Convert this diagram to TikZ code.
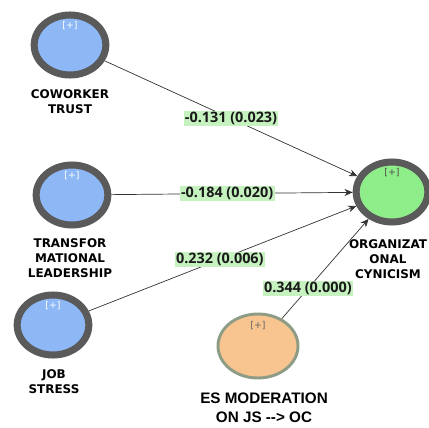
\documentclass[tikz,border=0pt]{standalone}
\usepackage{fontspec}
\usetikzlibrary{shapes.geometric,positioning,arrows.meta}
\newfontfamily\lvf{DejaVu Sans}
\newfontfamily\esf{Liberation Sans}
\newfontfamily\pcf{Open Sans}
\definecolor{blx}{HTML}{8DB8F5}
\definecolor{grx}{HTML}{90EE8A}
\definecolor{orx}{HTML}{F8C490}
\definecolor{gax}{HTML}{5A5A5A}
\definecolor{gox}{HTML}{8E9C86}
\definecolor{pgx}{HTML}{C6F2C0}
\tikzset{
    lv/.style={ellipse,draw=gax,line width=6pt,minimum width=2.15cm,minimum height=1.8cm,inner sep=0pt},
    mod/.style={ellipse,draw=gox,line width=2.5pt,fill=orx,minimum width=2.4cm,minimum height=1.92cm,inner sep=0pt},
    plus/.style={inner sep=0pt,font=\lvf\fontsize{8}{9}\selectfont},
    lvname/.style={align=center,inner sep=0pt,font=\lvf\bfseries\fontsize{10.2}{12.8}\selectfont},
    path/.style={draw=black!80,line width=0.6pt,-{Stealth[length=7pt,width=6pt]}},
    coef/.style={fill=pgx,inner sep=1.2pt,text=black!90,font=\pcf\bfseries\fontsize{12.3}{13}\selectfont}
}
\begin{document}
\begin{tikzpicture}[x=0.03cm,y=-0.03cm]
    \useasboundingbox (0,0) rectangle (429,427);
    \node [lv,fill=blx] (ct) at (70,45) {};
    \node [lv,fill=blx] (tl) at (72,195) {};
    \node [lv,fill=blx] (js) at (53,325) {};
    \node [lv,fill=grx] (oc) at (392,192) {};
    \node [mod] (es) at (258,346) {};
    \node [plus,text=white,below=8pt of ct.north] (ct-p) {[+]};
    \node [plus,text=white,below=8pt of tl.north] (tl-p) {[+]};
    \node [plus,text=white,below=8pt of js.north] (js-p) {[+]};
    \node [plus,text=black!70,below=8pt of oc.north] (oc-p) {[+]};
    \node [plus,text=black!60,below=7pt of es.north] (es-p) {[+]};
    \node [lvname] (ct-l) at (70,102) {COWORKER\\TRUST};
    \node [lvname] (tl-l) at (70,258) {TRANSFOR\\MATIONAL\\LEADERSHIP};
    \node [lvname] (js-l) at (54,382) {JOB\\STRESS};
    \node [lvname] (oc-l) at (388,259) {ORGANIZAT\\ONAL\\CYNICISM};
    \node [lvname,font=\esf\bfseries\fontsize{13}{16}\selectfont] (es-l) at (264,408) {ES MODERATION\\ON JS --> OC};
    \draw [path] (ct) -- (oc) node [coef,pos=0.5] (ct-c) {-0.131 (0.023)};
    \draw [path] (tl) -- (oc) node [coef,pos=0.48] (tl-c) {-0.184 (0.020)};
    \draw [path] (js) -- (oc) node [coef,pos=0.49] (js-c) {0.232 (0.006)};
    \draw [path] (es) -- (oc) node [coef,pos=0.3] (es-c) {0.344 (0.000)};
\end{tikzpicture}
\end{document}
